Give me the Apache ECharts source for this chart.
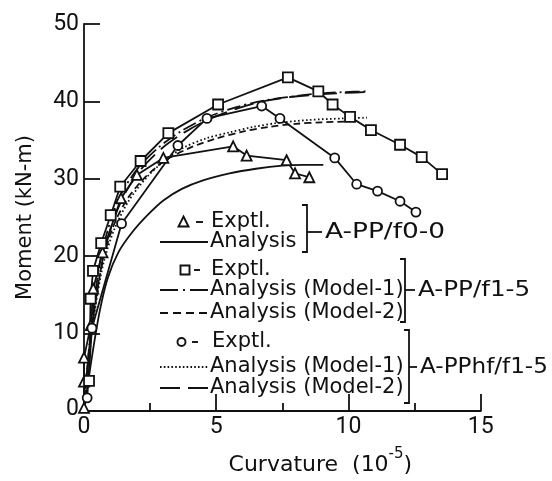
<!DOCTYPE html>
<html>
<head>
<meta charset="utf-8">
<script src="https://cdn.jsdelivr.net/npm/echarts@6/dist/echarts.min.js"></script>
<style>
  html, body { margin: 0; padding: 0; background: #fff; }
  #chart { width: 552px; height: 481px; }
</style>
</head>
<body>
<div id="chart"></div>
<script>
// Moment–curvature response of three beam series: measured points and analysis curves.
// Each pair is [curvature (1e-5), moment (kN-m)].

// A-PP/f0-0
const ppF00Exptl = [[0, 0.4], [0, 3.8], [0, 6.9], [0.26, 11.1], [0.35, 15.8], [0.7, 20.5], [1.4, 27.5], [2.0, 30.5],
  [3.0, 32.7], [5.64, 34.2], [6.15, 33.0], [7.66, 32.4], [7.98, 30.7], [8.52, 30.2]];
const ppF00Analysis = [[0, 0], [0.3, 7], [0.6, 13], [0.9, 17.2], [1.3, 20.5], [1.8, 23], [2.4, 25.3], [3.0, 27.2],
  [3.7, 28.7], [4.5, 29.8], [5.5, 30.7], [6.5, 31.3], [7.5, 31.7], [8.3, 31.8], [9.05, 31.8]];

// A-PP/f1-5
const ppF15Exptl = [[0.19, 3.9], [0.25, 14.5], [0.34, 18.1], [0.65, 21.7], [1.01, 25.3], [1.37, 29.0], [2.14, 32.3],
  [3.19, 35.9], [5.07, 39.6], [7.71, 43.1], [8.86, 41.3], [9.40, 39.6], [10.06, 38.0], [10.85, 36.3], [11.95, 34.4],
  [12.77, 32.8], [13.54, 30.6]];
const ppF15Model1 = [[0, 0], [0.1, 5], [0.25, 10], [0.42, 15], [0.65, 20], [1.0, 24.5], [1.4, 28], [2.0, 31.2],
  [2.8, 34], [3.7, 36.2], [4.7, 38], [5.8, 39.3], [6.8, 40.1], [7.8, 40.6], [8.8, 41], [9.8, 41.2], [10.7, 41.3]];
const ppF15Model2 = [[0, 0], [0.1, 4.5], [0.25, 9.5], [0.45, 14.5], [0.72, 19.5], [1.1, 23.8], [1.6, 27.2],
  [2.2, 29.8], [3.0, 32.2], [4.0, 34], [5.0, 35.2], [6.0, 36.1], [7.0, 36.7], [8.0, 37.1], [9.0, 37.3], [10.0, 37.4]];

// A-PPhf/f1-5
const pphfF15Exptl = [[0.12, 1.7], [0.3, 10.7], [1.42, 24.2], [3.55, 34.3], [4.65, 37.8], [6.72, 39.4], [7.41, 37.8],
  [9.48, 32.7], [10.31, 29.3], [11.10, 28.4], [11.95, 27.1], [12.55, 25.7]];
const pphfF15Model1 = [[0, 0], [0.1, 4.5], [0.27, 9.5], [0.48, 14.5], [0.75, 19.3], [1.15, 23.5], [1.7, 27.2],
  [2.4, 30.3], [3.1, 32.5], [3.75, 34.0], [4.6, 35.2], [5.5, 36.0], [6.4, 36.7], [7.3, 37.2], [8.5, 37.6],
  [9.8, 37.8], [10.7, 37.9]];
const pphfF15Model2 = [[0, 0], [0.1, 4.5], [0.25, 9.5], [0.45, 14.5], [0.7, 19.5], [1.05, 24], [1.5, 27.8],
  [2.1, 31], [2.9, 33.8], [3.8, 36], [4.8, 37.8], [5.9, 39.2], [6.9, 40.1], [7.9, 40.6], [8.9, 40.9], [9.9, 41.1],
  [10.7, 41.2]];

// Axis ranges and tick steps
const curvatureTicks = [0, 5, 10, 15];
const momentTicks = [0, 10, 20, 30, 40, 50];

// Key text
const keyLabels = ['Exptl.', 'Analysis', 'Exptl.', 'Analysis (Model-1)', 'Analysis (Model-2)',
  'Exptl.', 'Analysis (Model-1)', 'Analysis (Model-2)'];
const groupLabels = ['A-PP/f0-0', 'A-PP/f1-5', 'A-PPhf/f1-5'];

const INK = '#111';
const FONT = '"DejaVu Sans", sans-serif';
const NUM_FONT = 'Roboto, sans-serif';
const LW = 1.8;

// Line dash patterns
const DASH_DOT = [14, 4, 2, 4];
const SHORT_DASH = [7, 4];
const DOTTED = [1.6, 2.4];
const LONG_DASH = [20, 8];

function exptl(name, data, symbol, size) {
  return {
    type: 'line', name, data, symbol, symbolSize: size, showAllSymbol: true, z: 4,
    lineStyle: { color: INK, width: LW },
    itemStyle: { color: '#fff', borderColor: INK, borderWidth: LW },
    emphasis: { disabled: true }
  };
}
function analysis(name, data, dash) {
  return {
    type: 'line', name, data, symbol: 'none', smooth: 0.3, z: 3,
    lineStyle: { color: INK, width: LW, type: dash },
    emphasis: { disabled: true }
  };
}

// ---- key drawn beside the curves ----
const rowY = [222, 242, 270, 290, 313, 342, 367, 388];
const sampleX1 = 160, sampleX2 = 208;
const graphics = [];

function txt(x, y, s, font, extra) {
  return Object.assign({
    type: 'text', x, y, z: 10,
    style: { text: s, font: font || ('21px ' + FONT), fill: INK, align: 'left', verticalAlign: 'middle' }
  }, extra || {});
}
function seg(x1, y1, x2, y2, dash, w) {
  return { type: 'line', z: 10, shape: { x1, y1, x2, y2 },
    style: { stroke: INK, lineWidth: w || LW, lineDash: dash || null } };
}

// rows with a marker
graphics.push({ type: 'polygon', z: 10, shape: { points: [[183.5, 216.5], [188.5, 226.5], [178.5, 226.5]] },
  style: { fill: '#fff', stroke: INK, lineWidth: 1.9 } });
graphics.push(seg(196, rowY[0], 203, rowY[0], null, 1.9));
graphics.push(txt(211, rowY[0], keyLabels[0]));

graphics.push({ type: 'rect', z: 10, shape: { x: 180.5, y: 265.5, width: 9, height: 9 },
  style: { fill: '#fff', stroke: INK, lineWidth: 1.9 } });
graphics.push(seg(194, rowY[2], 200, rowY[2], null, 1.9));
graphics.push(txt(211, rowY[2], keyLabels[2]));

graphics.push({ type: 'circle', z: 10, shape: { cx: 181.5, cy: rowY[5], r: 4 },
  style: { fill: '#fff', stroke: INK, lineWidth: 1.9 } });
graphics.push(seg(192, rowY[5], 198, rowY[5], null, 1.9));
graphics.push(txt(212, rowY[5], keyLabels[5]));

// rows with a line sample
[[1, null], [3, [18, 5, 2, 5]], [4, [8, 5]], [6, [1.6, 2.2]], [7, [20, 8]]].forEach(([i, dash]) => {
  graphics.push(seg(sampleX1, rowY[i], sampleX2, rowY[i], dash, LW));
  graphics.push(txt(210, rowY[i], keyLabels[i]));
});

// brackets grouping the rows, with the specimen names
function bracket(x, top, bottom, mid, label, labelX, stretch) {
  graphics.push({ type: 'polyline', z: 10, shape: { points: [[x - 5, top], [x, top], [x, bottom], [x - 5, bottom]] },
    style: { stroke: INK, lineWidth: LW, fill: null } });
  graphics.push(seg(x, mid, labelX - 3, mid, null, LW));
  graphics.push(txt(labelX, mid, label, '22px ' + FONT, { scaleX: stretch }));
}
bracket(307, 205, 252, 232, groupLabels[0], 325, 1.2);
bracket(405, 259, 322, 290, groupLabels[1], 418, 1.12);
bracket(409, 330, 403, 367, groupLabels[2], 420, 1.05);

const chart = echarts.init(document.getElementById('chart'), null, { renderer: 'canvas' });
chart.setOption({
  animation: false,
  backgroundColor: '#fff',
  grid: { left: 84, right: 71.3, top: 24, bottom: 61 },
  xAxis: {
    type: 'value',
    min: curvatureTicks[0], max: curvatureTicks[curvatureTicks.length - 1],
    interval: curvatureTicks[1] - curvatureTicks[0],
    axisLine: { show: true, onZero: false, lineStyle: { color: INK, width: LW } },
    axisTick: { show: true, inside: true, length: 17, lineStyle: { color: INK, width: LW } },
    minorTick: { show: true, splitNumber: 2, length: 8, lineStyle: { color: INK, width: LW } },
    splitLine: { show: false },
    axisLabel: { color: INK, fontFamily: NUM_FONT, fontSize: 23, margin: 5 },
    name: '{t|Curvature  (10}{s|-5}{t|)}',
    nameLocation: 'middle',
    nameGap: 36,
    nameTextStyle: {
      padding: [0, 0, 0, 76],
      rich: {
        t: { fontFamily: FONT, fontSize: 22, color: INK, verticalAlign: 'bottom', lineHeight: 29 },
        s: { fontFamily: FONT, fontSize: 15, color: INK, verticalAlign: 'top', lineHeight: 15 }
      }
    }
  },
  yAxis: {
    type: 'value',
    min: momentTicks[0], max: momentTicks[momentTicks.length - 1],
    interval: momentTicks[1] - momentTicks[0],
    axisLine: { show: true, onZero: false, lineStyle: { color: INK, width: LW } },
    axisTick: { show: true, inside: true, length: 16, lineStyle: { color: INK, width: LW } },
    splitLine: { show: false },
    axisLabel: {
      color: INK, fontFamily: NUM_FONT, fontSize: 23, margin: 5,
      formatter: v => (v === 0 ? '{z|0}' : String(v)),
      rich: { z: { fontFamily: NUM_FONT, fontSize: 23, color: INK, padding: [0, 0, 4, 0] } }
    },
    name: 'Moment (kN-m)',
    nameLocation: 'middle',
    nameGap: 48,
    nameTextStyle: { fontFamily: FONT, fontSize: 21, color: INK }
  },
  series: [
    analysis('A-PP/f0-0 Analysis', ppF00Analysis, 'solid'),
    analysis('A-PP/f1-5 Model-1', ppF15Model1, DASH_DOT),
    analysis('A-PP/f1-5 Model-2', ppF15Model2, SHORT_DASH),
    analysis('A-PPhf/f1-5 Model-1', pphfF15Model1, DOTTED),
    analysis('A-PPhf/f1-5 Model-2', pphfF15Model2, LONG_DASH),
    exptl('A-PP/f0-0 Exptl.', ppF00Exptl, 'triangle', 10),
    exptl('A-PP/f1-5 Exptl.', ppF15Exptl, 'rect', 10),
    exptl('A-PPhf/f1-5 Exptl.', pphfF15Exptl, 'circle', 9)
  ],
  graphic: graphics
});
</script>
</body>
</html>
